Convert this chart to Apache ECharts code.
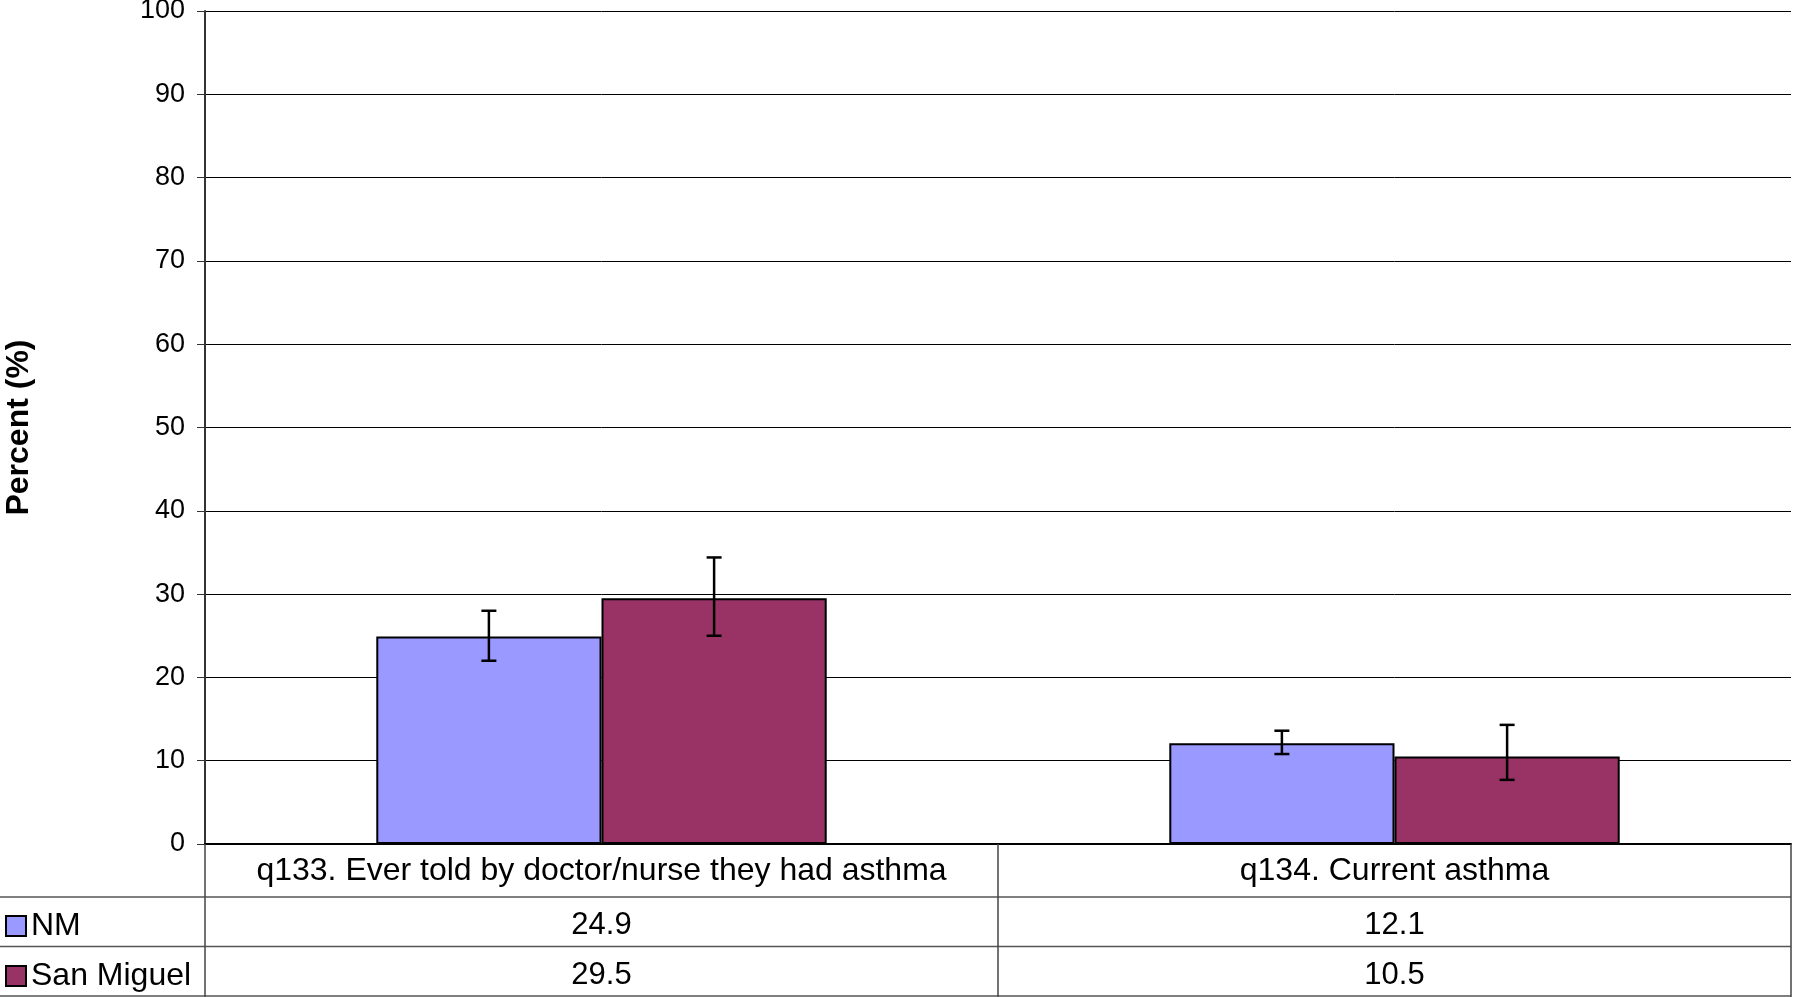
<!DOCTYPE html>
<html>
<head>
<meta charset="utf-8">
<script src="https://cdn.jsdelivr.net/npm/echarts@6/dist/echarts.min.js"></script>
<style>
html,body{margin:0;padding:0;background:#fff;}
#chart{width:1793px;height:997px;}
</style>
</head>
<body>
<div id="chart"></div>
<script>
const categories = ['q133. Ever told by doctor/nurse they had asthma', 'q134. Current asthma'];
const seriesNames = ['NM', 'San Miguel'];
const nmValues = [24.9, 12.1];
const smValues = [29.5, 10.5];
const nmLow = [22.0, 10.8];
const nmHigh = [28.0, 13.6];
const smLow = [25.0, 7.7];
const smHigh = [34.4, 14.3];
const yMin = 0, yMax = 100, yStep = 10;

const FONT = '"Liberation Sans", Arial, sans-serif';
const colors = ['#9999FF', '#993366'];
const BAR_FRAC = 0.284;

function errRenderer(sign) {
  return function (params, api) {
    const x = api.value(0);
    const lo = api.coord([x, api.value(1)]);
    const hi = api.coord([x, api.value(2)]);
    const band = api.size([1, 0])[0];
    const cx = lo[0] + sign * band * BAR_FRAC / 2;
    const cap = 7.5;
    const st = { stroke: '#000', lineWidth: 2.5 };
    return {
      type: 'group',
      children: [
        { type: 'line', shape: { x1: cx, y1: hi[1], x2: cx, y2: lo[1] }, style: st },
        { type: 'line', shape: { x1: cx - cap, y1: hi[1], x2: cx + cap, y2: hi[1] }, style: st },
        { type: 'line', shape: { x1: cx - cap, y1: lo[1], x2: cx + cap, y2: lo[1] }, style: st }
      ]
    };
  };
}

const chart = echarts.init(document.getElementById('chart'), null, { renderer: 'canvas' });

const rowLines = [897, 946.5, 996].map(y => ({
  type: 'line',
  shape: { x1: 0, y1: y, x2: 1791, y2: y },
  style: { stroke: '#555', lineWidth: 1.5 },
  silent: true
}));

chart.setOption({
  animation: false,
  backgroundColor: '#fff',
  textStyle: { fontFamily: FONT, color: '#000' },
  grid: { left: 205, right: 2, top: 11, bottom: 153, containLabel: false, outerBoundsMode: 'none' },
  legend: {
    data: seriesNames,
    orient: 'vertical',
    left: 5,
    top: 910,
    padding: 0,
    itemWidth: 20,
    itemHeight: 20,
    itemGap: 18,
    icon: 'rect',
    textStyle: { fontFamily: FONT, fontSize: 32, color: '#000' },
    selectedMode: false
  },
  xAxis: {
    type: 'category',
    data: categories,
    boundaryGap: true,
    axisLine: { show: true, lineStyle: { color: '#000', width: 2 } },
    axisTick: { show: true, length: 153, interval: 0, lineStyle: { color: '#444', width: 1.5 } },
    axisLabel: {
      interval: 0,
      margin: -2,
      formatter: function (val, idx) {
        return '{c|' + val + '}\n{v|' + nmValues[idx].toFixed(1) + '}\n{v|' + smValues[idx].toFixed(1) + '}';
      },
      rich: {
        c: { fontFamily: FONT, fontSize: 32, lineHeight: 58, color: '#000' },
        v: { fontFamily: FONT, fontSize: 31, lineHeight: 50, color: '#000' }
      }
    },
    splitLine: { show: false }
  },
  yAxis: {
    type: 'value',
    min: yMin,
    max: yMax,
    interval: yStep,
    name: 'Percent (%)',
    nameLocation: 'middle',
    nameRotate: 90,
    nameGap: 170,
    nameTextStyle: { fontFamily: FONT, fontSize: 32, fontWeight: 'bold', color: '#000' },
    axisLine: { show: true, lineStyle: { color: '#333', width: 2 } },
    axisTick: { show: true, length: 8, lineStyle: { color: '#333', width: 1 } },
    axisLabel: { fontFamily: FONT, fontSize: 27, color: '#000', margin: 20 },
    splitLine: { show: true, lineStyle: { color: '#000', width: 1 } }
  },
  series: [
    {
      name: seriesNames[0],
      type: 'bar',
      data: nmValues,
      barWidth: (BAR_FRAC * 100) + '%',
      barGap: '0%',
      itemStyle: { color: colors[0], borderColor: '#000', borderWidth: 2 },
      z: 2
    },
    {
      name: seriesNames[1],
      type: 'bar',
      data: smValues,
      barWidth: (BAR_FRAC * 100) + '%',
      barGap: '0%',
      itemStyle: { color: colors[1], borderColor: '#000', borderWidth: 2 },
      z: 2
    },
    {
      name: 'NM CI',
      type: 'custom',
      renderItem: errRenderer(-1),
      data: categories.map((c, i) => [i, nmLow[i], nmHigh[i]]),
      encode: { x: 0, y: [1, 2] },
      z: 5
    },
    {
      name: 'San Miguel CI',
      type: 'custom',
      renderItem: errRenderer(1),
      data: categories.map((c, i) => [i, smLow[i], smHigh[i]]),
      encode: { x: 0, y: [1, 2] },
      z: 5
    }
  ],
  graphic: rowLines
});
</script>
</body>
</html>
